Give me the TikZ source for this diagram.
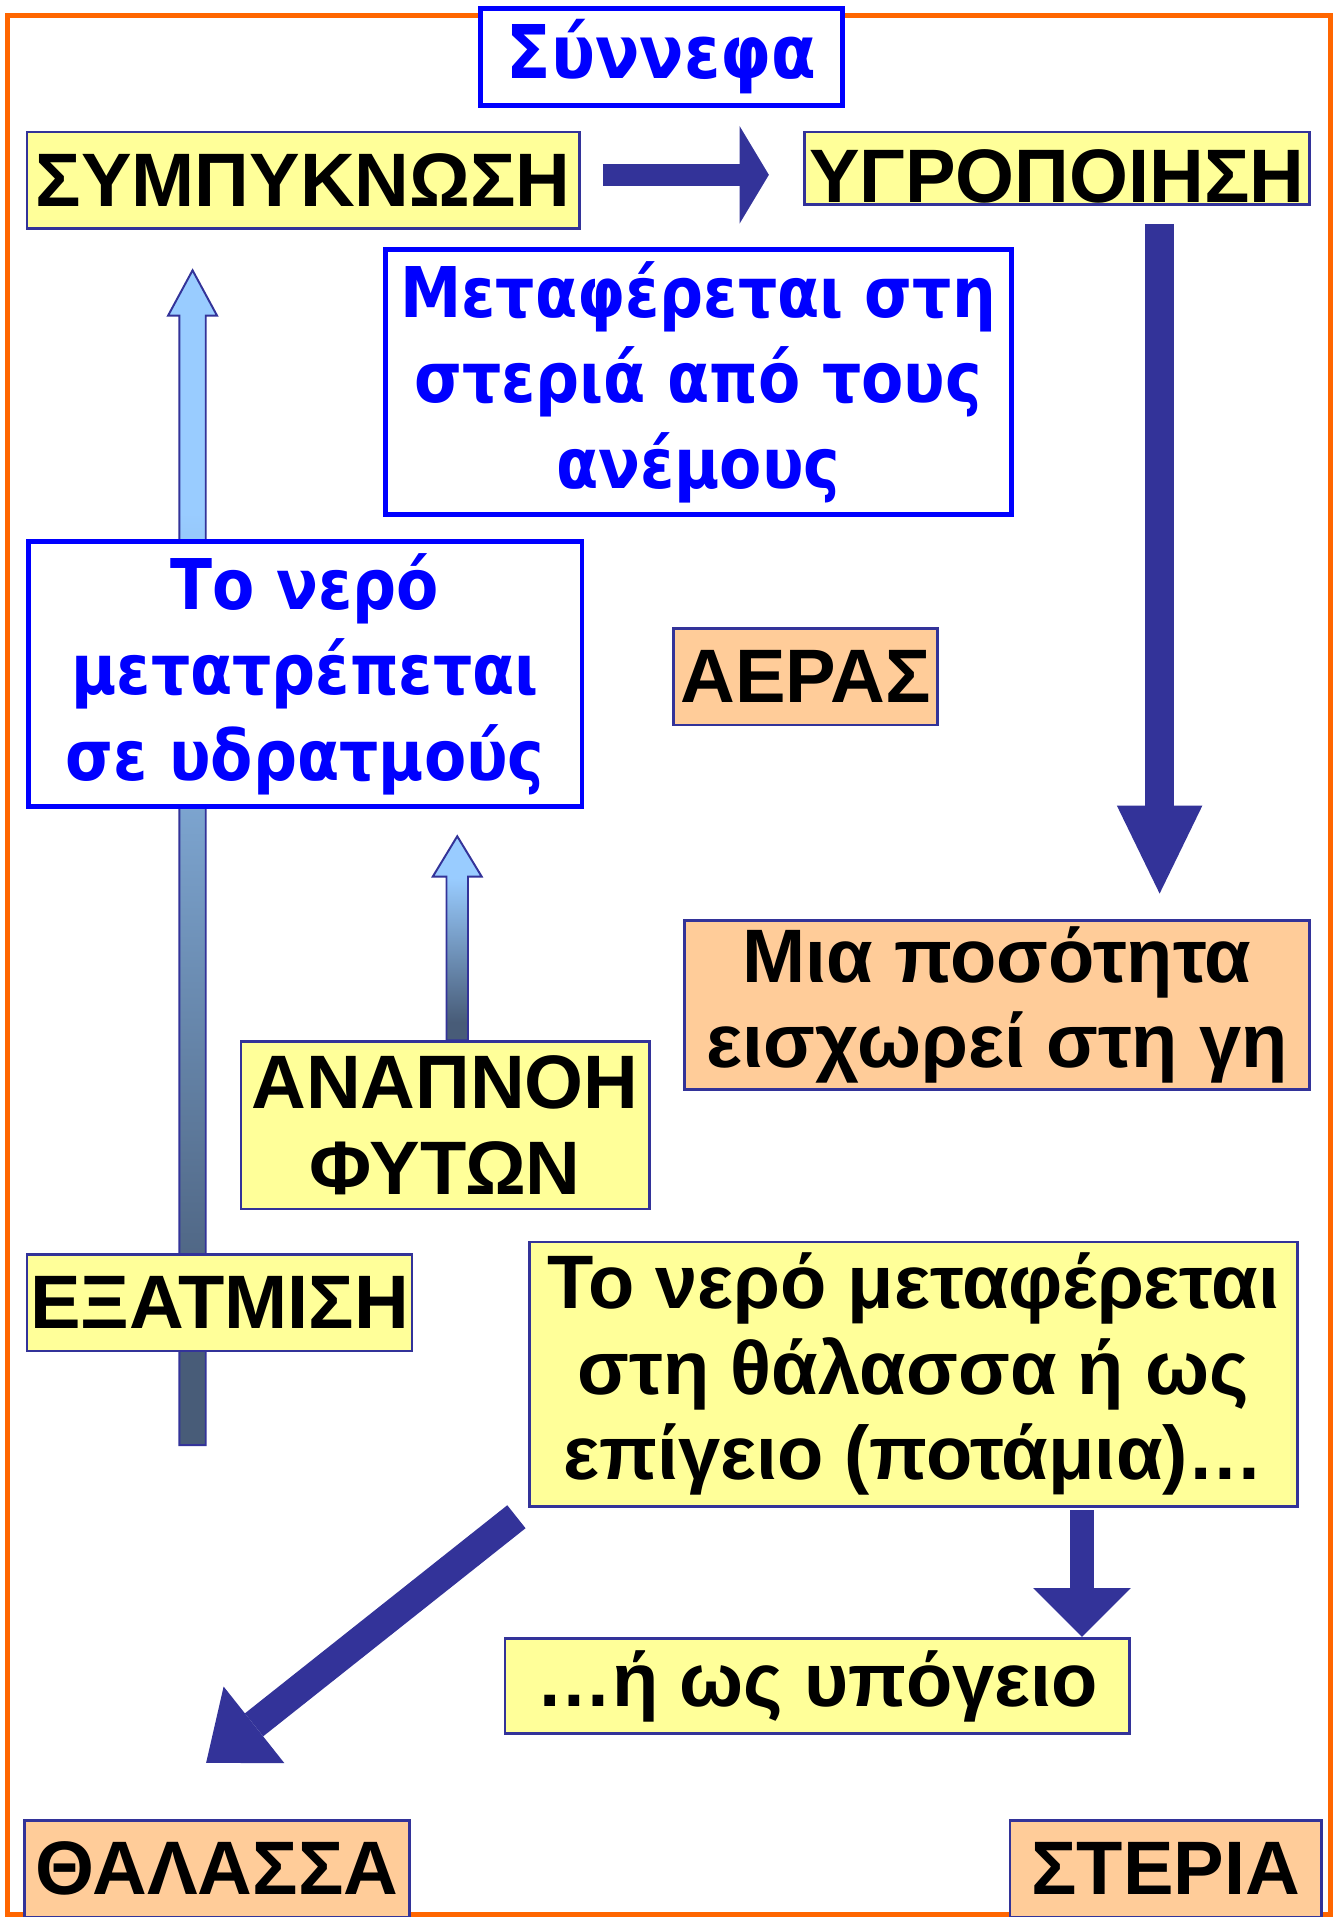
\documentclass[tikz,border=0pt]{standalone}
\usepackage{fontspec}
\setmainfont{Liberation Sans}
\newfontfamily\skyfont[FakeStretch=0.88]{DejaVu Sans}
\usetikzlibrary{arrows.meta, calc, backgrounds}

\definecolor{framebar}{HTML}{FF6600}
\definecolor{inkblue}{HTML}{0000FF}
\definecolor{navy}{HTML}{333399}
\definecolor{paleyellow}{HTML}{FFFF99}
\definecolor{peach}{HTML}{FFCC99}
\definecolor{mistlight}{HTML}{99CCFF}
\definecolor{mistdark}{HTML}{485C78}

\pgfdeclareverticalshading{vapourfade}{100bp}{color(0bp)=(mistdark); color(29.5bp)=(mistdark); color(64.7bp)=(mistlight); color(100bp)=(mistlight)}

% upward block arrow: foot, tip, half shaft, half head, head length
\newcommand{\riseArrow}[5]{%
  \path[gradarrow] ($(#1)+(-#3,0)$) -- ($(#2)+(-#3,#5)$) -- ($(#2)+(-#4,#5)$) -- (#2)
    -- ($(#2)+(#4,#5)$) -- ($(#2)+(#3,#5)$) -- ($(#1)+(#3,0)$) -- cycle;}

\begin{document}
\begin{tikzpicture}[x=0.5pt, y=-0.5pt,
    every node/.style={rectangle, inner sep=0pt, align=center},
    stage/.style={draw=navy, line width=1.1pt, font=\bfseries\fontsize{31}{35}\selectfont},
    yellowbox/.style={stage, fill=paleyellow},
    peachbox/.style={stage, fill=peach},
    bluebox/.style={draw=inkblue, fill=white, line width=2pt, text=inkblue,
        font=\skyfont\bfseries\fontsize{28.6}{35}\selectfont},
    flow/.style n args={3}{draw=navy, line width=#1,
        -{Triangle[length=#2, width=#3, line width=0pt]}},
    gradarrow/.style={shade, shading=vapourfade, draw=navy, line width=0.8pt}]
    \useasboundingbox (0,0) rectangle (1090,1568);

    % Orange frame
    \draw[framebar, line width=2pt] (6.4,12.4) rectangle (1088,1566);

    % Top row
    \node[bluebox, minimum width=148pt, minimum height=39.5pt,
        font=\skyfont\bfseries\fontsize{30.3}{35}\selectfont] (clouds) at (541,46.5) {Σύννεφα};
    \node[yellowbox, minimum width=226pt, minimum height=39.5pt] (symp) at (248,147.5) {ΣΥΜΠΥΚΝΩΣΗ};
    \node[yellowbox, minimum width=206.5pt, minimum height=29.5pt] (hygr) at (864.5,137.5)
        {\raisebox{-3.25pt}[\height][\depth]{ΥΓΡΟΠΟΙΗΣΗ}};

    % Middle
    \node[bluebox, minimum width=256pt, minimum height=108.5pt] (carry) at (571,312.5)
        {Μεταφέρεται στη\\στεριά από τους\\ανέμους};
    \node[bluebox, minimum width=226.5pt, minimum height=108.5pt] (vapour) at (249.5,551.5)
        {Το νερό\\μετατρέπεται\\σε υδρατμούς};
    \node[peachbox, minimum width=108pt, minimum height=39.5pt] (air) at (659,553.5) {ΑΕΡΑΣ};
    \node[peachbox, minimum width=255.5pt, minimum height=69pt] (seep) at (815.5,822)
        {Μια ποσότητα\\εισχωρεί στη γη};
    \node[yellowbox, minimum width=167pt, minimum height=68.5pt] (transp) at (364,920.5)
        {ΑΝΑΠΝΟΗ\\ΦΥΤΩΝ};
    \node[yellowbox, minimum width=157.5pt, minimum height=39.5pt] (evap) at (179.5,1065.5) {ΕΞΑΤΜΙΣΗ};
    \node[yellowbox, minimum width=314pt, minimum height=108pt] (runoff) at (747,1124)
        {Το νερό μεταφέρεται\\στη θάλασσα ή ως\\επίγειο (ποτάμια)…};
    \node[yellowbox, minimum width=255.5pt, minimum height=39pt] (ground) at (668.5,1379) {…ή ως υπόγειο};

    % Bottom row
    \node[peachbox, minimum width=157.5pt, minimum height=39.5pt] (sea) at (177.5,1528.5) {ΘΑΛΑΣΣΑ};
    \node[peachbox, minimum width=127.5pt, minimum height=39.5pt] (land) at (953.5,1528.5) {ΣΤΕΡΙΑ};

    % Solid arrows
    \draw[flow={9pt}{12pt}{40pt}] ($(symp.east)+(18,-4.5)$) -- ($(hygr.west)+(-28,5.5)$);
    \draw[flow={11.8pt}{36pt}{35pt}] ($(hygr.south)+(84,15)$) -- ($(seep.north)+(133,-21)$);
    \draw[flow={12pt}{25pt}{40pt}] ($(runoff.south west)+(-9.5,7.5)$) -- ($(sea.north)+(-8.9,-46)$);
    \draw[flow={9.5pt}{20pt}{40pt}] ($(runoff.south)+(138,2)$) -- ($(ground.north)+(216.5,0)$);

    % Shaded arrows behind the boxes
    \coordinate (evfoot) at ($(evap.south)+(-22,76)$);
    \coordinate (evtip) at ($(symp.south)+(-90.5,33)$);
    \coordinate (brfoot) at ($(transp.north)+(10,0)$);
    \coordinate (brtip) at ($(vapour.south)+(124.5,22)$);
    \begin{pgfonlayer}{background}
        \riseArrow{evfoot}{evtip}{10.8}{20}{37}
        \riseArrow{brfoot}{brtip}{8.8}{20}{33}
    \end{pgfonlayer}
\end{tikzpicture}
\end{document}
